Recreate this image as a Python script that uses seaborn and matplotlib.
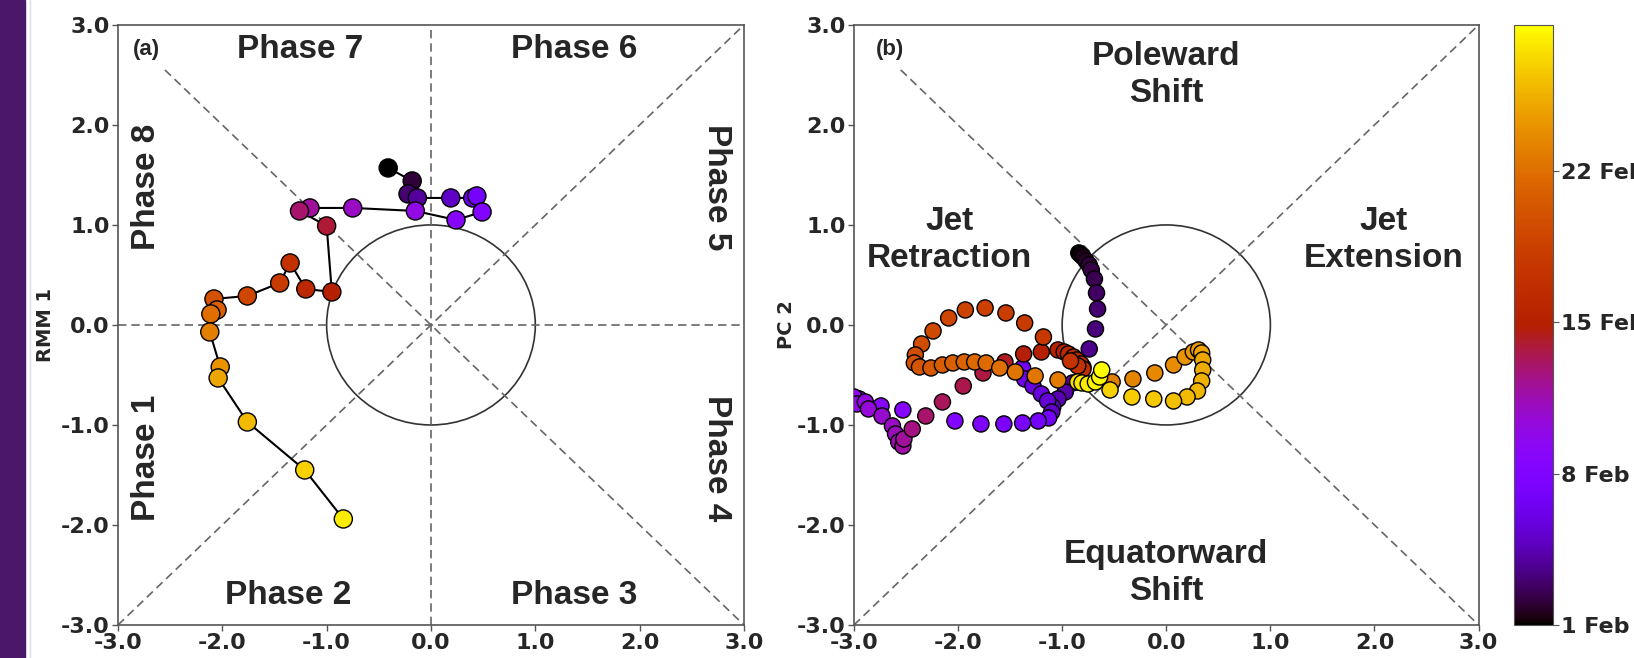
import matplotlib
matplotlib.use("Agg")
import matplotlib.pyplot as plt
import pandas as pd
import seaborn as sns
from matplotlib.colors import Normalize
from matplotlib.cm import ScalarMappable
from matplotlib.patches import Circle, Rectangle
from matplotlib.lines import Line2D

# ---- panel (a): daily RMM index, 1-28 Feb (days since 1 Feb)
rmm_day = [0, 1, 2, 3, 4, 5, 6, 7, 8, 9, 10, 11, 12, 13,
           14, 15, 16, 17, 18, 19, 20, 21, 22, 23, 24, 25, 26, 27]
rmm2 = [-0.41, -0.18, -0.22, -0.13, 0.19, 0.40, 0.44, 0.49, 0.24, -0.15, -0.75, -1.16, -1.26, -1.00,
        -0.95, -1.20, -1.35, -1.45, -1.76, -2.08, -2.05, -2.11, -2.12, -2.02, -2.04, -1.76, -1.21, -0.84]
rmm1 = [1.57, 1.44, 1.31, 1.27, 1.27, 1.27, 1.29, 1.13, 1.05, 1.14, 1.17, 1.17, 1.14, 0.99,
        0.33, 0.36, 0.62, 0.42, 0.29, 0.26, 0.15, 0.11, -0.07, -0.42, -0.53, -0.97, -1.45, -1.94]

# ---- panel (b): 6-hourly jet PCs
pc1 = [-0.84, -0.82, -0.80, -0.77, -0.74, -0.72, -0.69, -0.67, -0.66, -0.68, -0.74,
       -0.80, -0.90, -0.97, -1.04, -1.09,
       -1.38, -1.36, -1.28, -1.20, -1.14, -1.10,
       -1.13, -1.23, -1.38, -1.56, -1.78, -2.03,
       -2.53, -2.74, -2.95, -3.00, -2.97, -2.89, -2.86, -2.73, -2.63, -2.60, -2.57, -2.53,
       -2.52, -2.44, -2.31, -2.15, -1.95, -1.76,
       -1.55, -1.37, -1.20,
       -1.04, -0.98, -0.94, -0.89, -0.86, -0.82, -0.80, -0.85, -0.92,
       -1.18, -1.36, -1.54, -1.74, -1.93, -2.09, -2.24, -2.35, -2.41, -2.42,
       -2.37, -2.26, -2.15, -2.05, -1.94, -1.84, -1.73, -1.60, -1.45, -1.26, -1.04,
       -0.52, -0.32, -0.11, 0.07, 0.18, 0.26, 0.31, 0.34, 0.35, 0.35, 0.34, 0.30, 0.20,
       0.07, -0.12, -0.33, -0.54,
       -0.85, -0.81, -0.75, -0.68, -0.64, -0.62]
pc2 = [0.72, 0.70, 0.68, 0.64, 0.60, 0.55, 0.46, 0.32, 0.16, -0.04, -0.24,
       -0.42, -0.58, -0.67, -0.74, -0.82,
       -0.43, -0.54, -0.61, -0.69, -0.76, -0.87,
       -0.93, -0.96, -0.98, -0.99, -0.99, -0.96,
       -0.85, -0.81, -0.74, -0.72, -0.79, -0.77, -0.84, -0.91, -1.01, -1.09, -1.17, -1.21,
       -1.14, -1.04, -0.91, -0.77, -0.61, -0.48,
       -0.37, -0.29, -0.27,
       -0.25, -0.27, -0.29, -0.32, -0.35, -0.39, -0.44, -0.41, -0.36,
       -0.12, 0.02, 0.12, 0.17, 0.15, 0.07, -0.06, -0.19, -0.30, -0.38,
       -0.42, -0.43, -0.40, -0.38, -0.37, -0.37, -0.38, -0.43, -0.47, -0.51, -0.55,
       -0.57, -0.54, -0.48, -0.40, -0.32, -0.27, -0.25, -0.28, -0.35, -0.45, -0.56, -0.66, -0.72,
       -0.76, -0.74, -0.72, -0.65,
       -0.57, -0.58, -0.59, -0.57, -0.52, -0.45]
pc_day = [0.0, 0.25, 0.5, 0.75, 1.0, 1.25, 1.5, 1.75, 2.0, 2.25, 2.5,
          2.75, 3.0, 3.25, 3.5, 3.75,
          5.5, 5.25, 5.0, 4.75, 4.5, 4.0,
          5.75, 6.0, 6.25, 6.5, 6.75, 7.0,
          7.5, 8.0, 8.5, 8.75, 9.0, 9.25, 9.5, 9.75, 10.0, 10.25, 10.5, 10.75,
          11.0, 11.5, 12.0, 12.25, 12.5, 12.75,
          13.25, 13.75, 14.0,
          14.25, 14.5, 14.75, 15.0, 15.25, 15.5, 15.75, 16.0, 16.25,
          16.75, 17.0, 17.25, 17.5, 17.75, 18.0, 18.25, 18.5, 18.75, 19.0,
          19.25, 19.5, 19.75, 20.0, 20.25, 20.5, 20.75, 21.0, 21.25, 21.5, 21.75,
          22.0, 22.25, 22.5, 22.75, 23.0, 23.25, 23.5, 23.75, 24.0, 24.25, 24.5, 24.75, 25.0,
          25.25, 25.5, 25.75, 26.0,
          26.5, 26.75, 27.0, 27.25, 27.5, 27.75]

cbar_ticks = [0, 7, 14, 21]
cbar_labels = ["1 Feb", "8 Feb", "15 Feb", "22 Feb"]
tick_vals = [-3, -2, -1, 0, 1, 2, 3]

df_a = pd.DataFrame({"rmm2": rmm2, "rmm1": rmm1, "day": rmm_day})
df_b = pd.DataFrame({"pc1": pc1, "pc2": pc2, "day": pc_day})

sns.set_style("ticks")
plt.rcParams["font.family"] = ["DejaVu Sans"]
norm = Normalize(0, 27.75)
cmap = "gnuplot"
label_font = "Liberation Sans"
dash_kw = dict(color="#666666", lw=1.2, ls=(0, (5, 3)), zorder=1)
tick_size = 16

fig = plt.figure(figsize=(16.34, 6.58), dpi=100)
ax_a = fig.add_axes([0.0722, 0.0502, 0.3831, 0.9119])
ax_b = fig.add_axes([0.5226, 0.0502, 0.3823, 0.9119])
cax = fig.add_axes([0.9266, 0.0502, 0.0239, 0.9119])

# purple strip on the left edge of the screenshot
fig.patches.append(Rectangle((0, 0), 25 / 1634, 1, transform=fig.transFigure,
                             color="#4a176b", zorder=0))
fig.lines.append(Line2D([30 / 1634, 30 / 1634], [0, 1], transform=fig.transFigure,
                        color="#dddddd", lw=1))


def style_axes(ax, xlabel, ylabel, ylab_x):
    ax.set_xlim(-3, 3)
    ax.set_ylim(-3, 3)
    ax.set_xticks(tick_vals)
    ax.set_yticks(tick_vals)
    ax.set_xticklabels([f"{v:.1f}" for v in tick_vals])
    ax.set_yticklabels([f"{v:.1f}" for v in tick_vals])
    ax.tick_params(labelsize=tick_size, color="#555555", length=4, width=1, pad=2)
    for lab in ax.get_xticklabels() + ax.get_yticklabels():
        lab.set_fontweight("bold")
    for sp in ax.spines.values():
        sp.set_visible(True)
        sp.set_color("#555555")
        sp.set_linewidth(1.2)
    ax.set_xlabel(xlabel, fontsize=14, fontweight="bold")
    ax.set_ylabel(ylabel, fontsize=14, fontweight="bold")
    ax.xaxis.set_label_coords(0.5, -0.055)
    ax.yaxis.set_label_coords(ylab_x, 0.5)


def guides(ax):
    ax.add_patch(Circle((0, 0), 1, fill=False, ec="#333333", lw=1.2, zorder=1))
    ax.plot([-3, 3], [-3, 3], **dash_kw)
    ax.plot([-2.55, 3], [2.55, -3], **dash_kw)


# ---- panel (a)
guides(ax_a)
ax_a.axvline(0, **dash_kw)
ax_a.axhline(0, **dash_kw)
sns.lineplot(data=df_a, x="rmm2", y="rmm1", sort=False, estimator=None, color="black",
             lw=1.5, ax=ax_a, zorder=2)
sns.scatterplot(data=df_a, x="rmm2", y="rmm1", hue="day", palette=cmap, hue_norm=norm,
                s=170, edgecolor="black", linewidth=1, legend=False, ax=ax_a, zorder=3)
style_axes(ax_a, "RMM 2", "RMM 1", -0.100)

ph = dict(fontsize=24, fontweight="bold", family=label_font, ha="center", va="center")
ax_a.text(-1.25, 2.75, "Phase 7", **ph)
ax_a.text(1.37, 2.75, "Phase 6", **ph)
ax_a.text(-1.37, -2.71, "Phase 2", **ph)
ax_a.text(1.37, -2.71, "Phase 3", **ph)
ax_a.text(-2.73, 1.38, "Phase 8", rotation=90, **ph)
ax_a.text(-2.73, -1.33, "Phase 1", rotation=90, **ph)
ax_a.text(2.74, 1.38, "Phase 5", rotation=270, **ph)
ax_a.text(2.74, -1.33, "Phase 4", rotation=270, **ph)
ax_a.text(-2.73, 2.75, "(a)", fontsize=16, fontweight="bold", family=label_font,
          ha="center", va="center")

# ---- panel (b)
guides(ax_b)
sns.scatterplot(data=df_b, x="pc1", y="pc2", hue="day", palette=cmap, hue_norm=norm,
                s=135, edgecolor="black", linewidth=1, legend=False, ax=ax_b, zorder=3)
style_axes(ax_b, "PC 1", "PC 2", -0.092)
ax_b.text(0.0, 2.5, "Poleward\nShift", linespacing=1.25, **ph)
ax_b.text(0.0, -2.48, "Equatorward\nShift", linespacing=1.25, **ph)
ax_b.text(-2.08, 0.85, "Jet\nRetraction", linespacing=1.25, **ph)
ax_b.text(2.09, 0.85, "Jet\nExtension", linespacing=1.25, **ph)
ax_b.text(-2.65, 2.75, "(b)", fontsize=16, fontweight="bold", family=label_font,
          ha="center", va="center")

# ---- colorbar
sm = ScalarMappable(norm=norm, cmap=cmap)
cb = fig.colorbar(sm, cax=cax, ticks=cbar_ticks)
cb.ax.set_yticklabels(cbar_labels)
cb.ax.tick_params(labelsize=tick_size, color="#555555", length=4, pad=2)
for lab in cb.ax.get_yticklabels():
    lab.set_fontweight("bold")
cb.outline.set_edgecolor("#555555")

fig.savefig("out.png", dpi=100)
